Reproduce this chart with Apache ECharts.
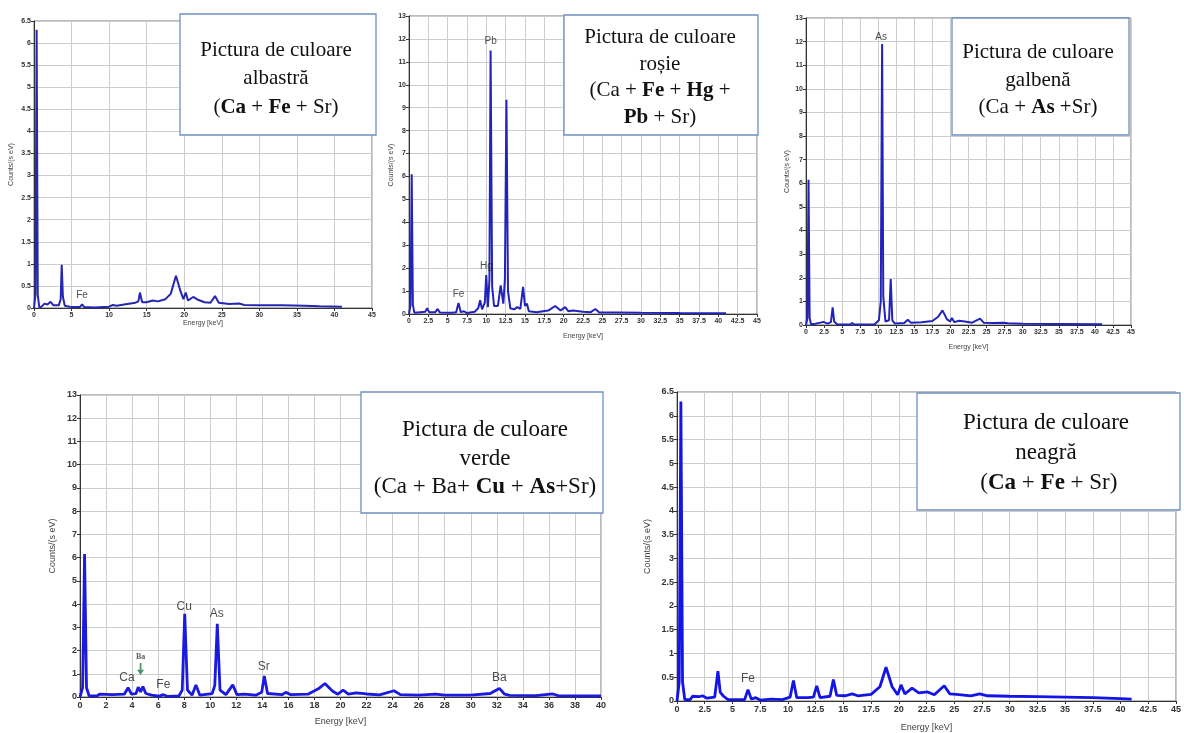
<!DOCTYPE html>
<html><head><meta charset="utf-8">
<script src="https://cdn.jsdelivr.net/npm/echarts@6/dist/echarts.min.js"></script>
<style>html,body{margin:0;padding:0;background:#fff}#c{width:1184px;height:733px}</style>
</head><body><div id="c"></div>
<script>
// ---- DATA: [energy keV, counts/(s eV)] ----
const blueSpectrum = [[0,0],[0.2,0.3],[0.35,6.3],[0.5,0.3],[0.7,0.02],[1.0,0.03],[1.4,0.1],[1.8,0.08],[2.2,0.14],[2.6,0.06],[3.3,0.06],[3.55,0.2],[3.69,0.98],[3.85,0.25],[4.1,0.05],[5.0,0.02],[6.1,0.02],[6.4,0.08],[6.7,0.02],[8.0,0.01],[10.0,0.03],[10.5,0.07],[11.0,0.05],[12.0,0.08],[13.5,0.12],[13.9,0.15],[14.1,0.35],[14.4,0.13],[15.0,0.13],[15.8,0.17],[16.5,0.15],[17.5,0.2],[18.2,0.32],[18.9,0.73],[19.5,0.38],[19.9,0.2],[20.2,0.35],[20.5,0.17],[21.2,0.25],[21.9,0.18],[22.7,0.13],[23.5,0.12],[24.1,0.27],[24.6,0.12],[26.0,0.09],[27.3,0.1],[28.0,0.07],[30.0,0.06],[33.0,0.06],[36.0,0.05],[38.0,0.04],[41.0,0.03]];
const redSpectrum = [[0,0],[0.2,0.4],[0.35,6.1],[0.5,0.4],[0.7,0.05],[1.5,0.08],[2.1,0.1],[2.35,0.25],[2.6,0.08],[3.4,0.08],[3.7,0.22],[4.0,0.06],[5.5,0.05],[6.1,0.08],[6.4,0.48],[6.7,0.08],[7.1,0.12],[7.5,0.04],[8.5,0.1],[8.95,0.25],[9.2,0.6],[9.45,0.2],[9.8,0.5],[9.99,1.7],[10.2,0.3],[10.4,1.5],[10.55,11.5],[10.75,1.2],[11.0,0.35],[11.5,0.35],[11.85,1.25],[12.2,0.45],[12.4,1.5],[12.6,9.35],[12.8,1.0],[13.1,0.25],[13.6,0.2],[14.0,0.3],[14.4,0.22],[14.75,1.18],[15.0,0.35],[15.25,0.45],[15.5,0.12],[16.5,0.08],[18.0,0.15],[18.9,0.35],[19.6,0.15],[20.2,0.3],[20.6,0.12],[21.2,0.15],[22.5,0.1],[23.5,0.08],[24.1,0.22],[24.6,0.07],[27.0,0.07],[30.0,0.05],[35.0,0.04],[41.0,0.03]];
const yellowSpectrum = [[0,0],[0.2,0.3],[0.35,6.15],[0.5,0.3],[0.7,0.03],[1.3,0.05],[1.5,0.12],[2.0,0.1],[2.4,0.13],[3.0,0.06],[3.45,0.12],[3.69,0.75],[3.9,0.15],[4.3,0.03],[6.1,0.02],[6.4,0.08],[6.7,0.02],[9.5,0.03],[10.1,0.2],[10.35,1.0],[10.54,11.9],[10.7,1.2],[11.0,0.15],[11.5,0.2],[11.73,1.95],[11.95,0.2],[12.3,0.06],[13.6,0.08],[14.1,0.22],[14.5,0.1],[16.0,0.12],[17.5,0.17],[18.3,0.35],[18.9,0.62],[19.5,0.25],[19.95,0.15],[20.2,0.3],[20.55,0.12],[21.2,0.18],[22.0,0.15],[23.0,0.1],[24.1,0.27],[24.6,0.1],[26.0,0.08],[27.3,0.1],[28.0,0.07],[30.0,0.05],[35.0,0.04],[41.0,0.03]];
const greenSpectrum = [[0,0],[0.2,0.4],[0.35,6.15],[0.5,0.4],[0.7,0.05],[1.3,0.05],[1.5,0.12],[2.5,0.1],[3.4,0.12],[3.69,0.4],[3.95,0.12],[4.3,0.15],[4.47,0.42],[4.65,0.22],[4.83,0.45],[5.05,0.15],[5.5,0.08],[6.1,0.04],[6.4,0.1],[6.7,0.03],[7.6,0.05],[7.85,0.3],[8.04,3.58],[8.25,0.3],[8.6,0.08],[8.9,0.52],[9.2,0.08],[10.15,0.15],[10.35,0.5],[10.54,3.15],[10.75,0.3],[11.2,0.1],[11.73,0.52],[12.05,0.1],[12.6,0.12],[13.5,0.08],[13.95,0.2],[14.15,0.9],[14.4,0.15],[15.5,0.1],[15.8,0.2],[16.2,0.1],[17.5,0.12],[18.3,0.35],[18.8,0.58],[19.4,0.25],[19.8,0.12],[20.2,0.3],[20.6,0.12],[21.2,0.18],[22.0,0.13],[23.0,0.09],[24.1,0.27],[24.6,0.1],[26.0,0.08],[27.3,0.12],[28.0,0.08],[30.0,0.08],[31.5,0.15],[31.8,0.25],[32.2,0.37],[32.6,0.12],[33.0,0.07],[35.0,0.06],[36.3,0.13],[36.7,0.06],[38.0,0.05],[40.0,0.05]];
const blackSpectrum = [[0,0],[0.2,0.4],[0.35,6.3],[0.5,0.4],[0.7,0.03],[1.2,0.03],[1.4,0.1],[2.0,0.09],[2.3,0.11],[2.7,0.06],[3.4,0.08],[3.69,0.63],[3.9,0.18],[4.2,0.1],[4.6,0.03],[6.1,0.03],[6.4,0.24],[6.7,0.04],[7.1,0.07],[7.5,0.02],[8.5,0.04],[9.5,0.03],[10.2,0.08],[10.5,0.43],[10.8,0.07],[11.8,0.07],[12.3,0.08],[12.6,0.32],[12.9,0.07],[13.8,0.1],[14.1,0.45],[14.4,0.12],[15.2,0.11],[15.8,0.15],[16.3,0.11],[17.5,0.14],[18.3,0.3],[18.85,0.71],[19.4,0.3],[19.9,0.13],[20.2,0.34],[20.55,0.15],[21.2,0.27],[21.8,0.17],[22.6,0.19],[23.2,0.13],[24.1,0.32],[24.6,0.15],[25.2,0.14],[26.5,0.11],[27.3,0.15],[28.0,0.11],[30.0,0.1],[32.5,0.09],[35.0,0.08],[37.5,0.07],[40.0,0.05],[41.0,0.04]];

// peak labels: [text, energy, counts]
const blueLabels = [['Fe',6.4,0.3]];
const redLabels = [['Fe',6.4,0.84],['Hg',10.0,2.1],['Pb',10.55,11.9]];
const yellowLabels = [['As',10.4,12.2]];
const greenLabels = [['Ca',3.6,0.82],['Fe',6.4,0.55],['Cu',8.0,3.9],['As',10.5,3.6],['Sr',14.1,1.32],['Ba',32.2,0.82]];
const blackLabels = [['Fe',6.4,0.47]];
const greenArrow = [['Ba',4.65,1.2]];

// box captions (rich text lines)
const blueCaption = ['{n|Pictura de culoare}','{n|albastră}','{n|(}{b|Ca}{n| + }{b|Fe}{n| + Sr)}'];
const redCaption = ['{n|Pictura de culoare}','{n|roșie}','{n|(Ca + }{b|Fe}{n| + }{b|Hg}{n| +}','{b|Pb}{n| + Sr)}'];
const yellowCaption = ['{n|Pictura de culoare}','{n|galbenă}','{n|(Ca + }{b|As}{n| +Sr)}'];
const greenCaption = ['{n|Pictura de culoare}','{n|verde}','{n|(Ca + Ba+ }{b|Cu}{n| + }{b|As}{n|+Sr)}'];
const blackCaption = ['{n|Pictura de culoare}','{n|neagră}','{n| (}{b|Ca}{n| + }{b|Fe}{n| + Sr)}'];

// ---- LAYOUT ----
const panels = [
 {data:blueSpectrum, labels:blueLabels, grid:{left:34,top:21,width:338,height:287}, xMax:45, xStep:5, yMax:6.5, yStep:0.5, tick:7, lab:10, yGap:19, xGap:5, color:'#2626b0', lw:2,
  box:{x:180,y:14,w:196,h:121}, cap:blueCaption, cx:276, ty:36, lh:28.5, fs:21},
 {data:redSpectrum, labels:redLabels, grid:{left:409,top:16,width:348,height:298}, xMax:45, xStep:2.5, yMax:13, yStep:1, tick:7, lab:10, yGap:14, xGap:12, color:'#2222bc', lw:2,
  box:{x:564,y:15,w:194,h:120}, cap:redCaption, cx:660, ty:24, lh:26.7, fs:21},
 {data:yellowSpectrum, labels:yellowLabels, grid:{left:806,top:18,width:325,height:307}, xMax:45, xStep:2.5, yMax:13, yStep:1, tick:7, lab:10, yGap:15, xGap:12, color:'#2222bc', lw:2,
  box:{x:952,y:18,w:177,h:117}, cap:yellowCaption, cx:1038, ty:39, lh:27.5, fs:21},
 {data:greenSpectrum, labels:greenLabels, grid:{left:80,top:395,width:521,height:302}, xMax:40, xStep:2, yMax:13, yStep:1, tick:9, lab:12, yGap:23, xGap:11, color:'#1a1ae0', lw:2.8,
  box:{x:361,y:392,w:242,h:121}, cap:greenCaption, cx:485, ty:416, lh:28.5, fs:23},
 {data:blackSpectrum, labels:blackLabels, grid:{left:677,top:392,width:502,height:315}, xMax:45, xStep:2.5, yMax:6.5, yStep:0.5, tick:9, lab:12, yGap:25, xGap:13, color:'#1414e6', lw:2.8,
  box:{x:917,y:393,w:263,h:117}, cap:blackCaption, cx:1046, ty:408, lh:30, fs:23}
];

const sans = 'Liberation Sans, Arial, sans-serif';
const serif = 'Liberation Serif, Times New Roman, serif';

const grids=[], xAxes=[], yAxes=[], series=[], graphics=[];
panels.forEach((p,i)=>{
  grids.push(Object.assign({show:true, borderColor:'#777', borderWidth:1, backgroundColor:'#fff', containLabel:false}, p.grid));
  xAxes.push({type:'value', gridIndex:i, min:0, max:p.xMax, interval:p.xStep,
    name:'Energy [keV]', nameLocation:'middle', nameGap:p.xGap+p.tick, nameTextStyle:{fontSize:p.tick, color:'#444', fontFamily:sans},
    axisLine:{lineStyle:{color:'#333'}}, axisTick:{show:true, length:3, lineStyle:{color:'#333'}},
    axisLabel:{fontSize:p.tick, color:'#333', margin:4, fontFamily:sans, fontWeight:'bold'},
    splitLine:{show:true, lineStyle:{color:'#cdcdcd', width:1}}});
  yAxes.push({type:'value', gridIndex:i, min:0, max:p.yMax, interval:p.yStep,
    name:'Counts/(s eV)', nameLocation:'middle', nameRotate:90, nameGap:p.yGap, nameTextStyle:{fontSize:p.tick, color:'#444', fontFamily:sans},
    axisLine:{show:true, lineStyle:{color:'#333'}}, axisTick:{show:true, length:3, lineStyle:{color:'#333'}},
    axisLabel:{fontSize:p.tick, color:'#333', margin:3, fontFamily:sans, fontWeight:'bold'},
    splitLine:{show:true, lineStyle:{color:'#cdcdcd', width:1}}});
  series.push({type:'line', xAxisIndex:i, yAxisIndex:i, data:p.data, showSymbol:false, symbol:'none',
    lineStyle:{color:p.color, width:p.lw}, silent:true, z:3});
  series.push({type:'scatter', xAxisIndex:i, yAxisIndex:i, silent:true, symbolSize:1, itemStyle:{color:'rgba(0,0,0,0)'},
    data:p.labels.map(l=>({name:l[0], value:[l[1],l[2]]})),
    label:{show:true, position:'inside', formatter:'{b}', fontSize:p.lab, color:'#222', fontFamily:sans}, z:4});
  graphics.push({type:'rect', shape:{x:p.box.x, y:p.box.y, width:p.box.w, height:p.box.h},
    style:{fill:'#fff', stroke:'#6f90c0', lineWidth:1.3}, z:100});
  graphics.push({type:'text', z:101, style:{x:p.cx, y:p.ty, text:p.cap.join('\n'), align:'center', verticalAlign:'top',
    rich:{n:{fontFamily:serif, fontSize:p.fs, lineHeight:p.lh, fill:'#111'}, b:{fontFamily:serif, fontSize:p.fs, lineHeight:p.lh, fontWeight:'bold', fill:'#111'}}}});
});

// Ba arrow annotation on the green panel
series.push({type:'scatter', xAxisIndex:3, yAxisIndex:3, silent:true, z:5,
  symbol:'path://M4,0 L6,0 L6,6 L9,6 L5,11 L1,6 L4,6 Z', symbolSize:[7,12],
  itemStyle:{color:'#1d7a4c'},
  data:greenArrow.map(a=>({name:a[0], value:[a[1],a[2]]})),
  label:{show:true, position:'top', distance:2, formatter:'{b}', fontSize:8, fontWeight:'bold', fontFamily:serif, color:'#333'}});

const chart = echarts.init(document.getElementById('c'), null, {renderer:'canvas'});
chart.setOption({animation:false, backgroundColor:'#fff', grid:grids, xAxis:xAxes, yAxis:yAxes, series:series, graphic:graphics});
</script></body></html>
